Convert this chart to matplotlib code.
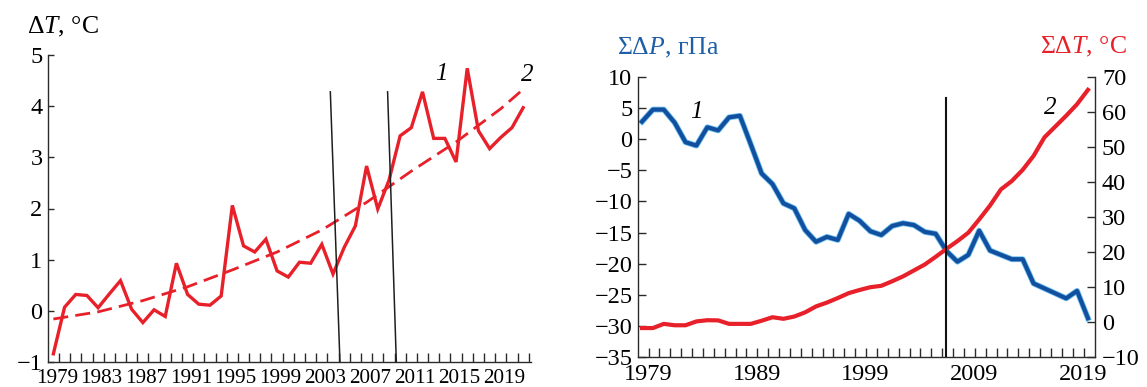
"""Temperature anomaly and accumulated pressure / temperature change, 1979-2021."""
import numpy as np
import matplotlib.pyplot as plt
import matplotlib.patheffects as pe

plt.rcParams['font.family'] = ['Liberation Serif', 'DejaVu Serif']
plt.rcParams['mathtext.fontset'] = 'custom'
plt.rcParams['mathtext.rm'] = 'Liberation Serif'
plt.rcParams['mathtext.it'] = 'Liberation Serif:italic'

RED = '#e8202a'
BLUE = '#12509f'
INK = '#2b2b2b'

# left panel: annual dT and its trend
dt_years = np.arange(1979, 2022)
dt_values = [-0.84, 0.07, 0.32, 0.30, 0.06, 0.33, 0.59, 0.03, -0.23, 0.02,
             -0.11, 0.93, 0.32, 0.13, 0.11, 0.29, 2.06, 1.27, 1.15, 1.40,
             0.78, 0.66, 0.95, 0.93, 1.30, 0.72, 1.24, 1.66, 2.83, 1.99,
             2.55, 3.42, 3.58, 4.28, 3.37, 3.37, 2.91, 4.74, 3.52, 3.17,
             3.39, 3.58, 3.97]
trend_years = [1979, 1983, 1987, 1991, 1995, 1999, 2003, 2007, 2011, 2015, 2019, 2021]
trend_values = [-0.16, -0.02, 0.20, 0.47, 0.80, 1.15, 1.58, 2.12, 2.73, 3.30, 3.95, 4.33]
left_labels = list(range(1979, 2022, 4))

# slanted break markers on the left panel
break_top_x = [2003.76, 2008.88]
break_bottom_x = [2004.62, 2009.66]
break_top_y = 4.28

# right panel: accumulated pressure (1) and temperature (2) anomalies
sum_years = np.arange(1979, 2021)
sum_dp = [2.86, 4.8, 4.8, 2.7, -0.45, -1.0, 1.95, 1.45, 3.55, 3.8,
          -0.8, -5.5, -7.2, -10.3, -11.1, -14.6, -16.5, -15.7, -16.2, -12.0,
          -13.1, -14.8, -15.4, -13.95, -13.5, -13.8, -14.9, -15.2, -18.0, -19.7,
          -18.6, -14.7, -17.9, -18.6, -19.3, -19.3, -23.2, -24.0, -24.8, -25.6,
          -24.4, -28.8]
sum_dt = [-1.8, -1.8, -0.6, -1.0, -1.0, 0.1, 0.45, 0.4, -0.6, -0.6,
          -0.6, 0.3, 1.3, 0.85, 1.5, 2.7, 4.4, 5.5, 6.8, 8.2,
          9.1, 9.9, 10.3, 11.6, 13.0, 14.7, 16.4, 18.6, 20.9, 23.1,
          25.5, 29.3, 33.3, 37.9, 40.3, 43.5, 47.5, 52.8, 55.9, 59.0,
          62.3, 66.4]
right_labels = [1979, 1989, 1999, 2009, 2019]
split_year = 2006.94
split_top = 6.6


def style_axis(ax):
    for side in ('top', 'right'):
        ax.spines[side].set_visible(False)
    for side in ('left', 'bottom'):
        ax.spines[side].set_color(INK)
        ax.spines[side].set_linewidth(1.0)


def plot_left(ax):
    ax.plot(dt_years, dt_values, color=RED, lw=2.4, solid_joinstyle='miter')
    ax.plot(trend_years, trend_values, color=RED, lw=2.0, dashes=(5.4, 2.6))
    for x0, x1 in zip(break_top_x, break_bottom_x):
        ax.plot([x0, x1], [break_top_y, -1], color='#1e1e1e', lw=1.1)

    ax.set_xlim(1978.52, 2021.7)
    ax.set_ylim(-1, 5)
    style_axis(ax)

    ax.set_yticks(range(-1, 6))
    ax.tick_params(axis='y', direction='in', length=4, width=1, color=INK,
                   labelsize=17.5, pad=4)
    ax.set_xticks(np.array(left_labels) + 0.3, [str(y) for y in left_labels])
    ax.set_xticks(np.arange(1979.5, 2022), minor=True)
    ax.tick_params(axis='x', which='major', length=0, labelsize=15.2, pad=5)
    ax.tick_params(axis='x', which='minor', direction='in', length=6.2,
                   width=1, color=INK)

    ax.text(2013.7, 4.62, '1', fontsize=18, style='italic', ha='center', va='center')
    ax.text(2021.4, 4.60, '2', fontsize=18, style='italic', ha='center', va='center')


def plot_right(ax, ax_t):
    ax.plot(sum_years, sum_dp, color=BLUE, lw=3.0, solid_joinstyle='round',
            path_effects=[pe.Stroke(linewidth=4.2, foreground='#6cc0ee'), pe.Normal()])
    ax_t.plot(sum_years, sum_dt, color=RED, lw=3.0, solid_joinstyle='round')
    ax_t.plot([split_year, split_year], [-35, split_top], color='#111111', lw=1.5,
              transform=ax.transData)

    ax.set_xlim(1978.63, 2020.65)
    ax.set_ylim(-35, 10)
    ax_t.set_ylim(-10, 70)
    style_axis(ax)
    for side in ('top', 'left', 'bottom'):
        ax_t.spines[side].set_visible(False)
    ax_t.spines['right'].set_color(INK)
    ax_t.spines['right'].set_linewidth(1.0)

    ax.set_yticks(range(-35, 11, 5))
    ax.tick_params(axis='y', direction='in', length=6, width=1, color=INK,
                   labelsize=17.5, pad=4)
    ax_t.set_yticks(range(-10, 71, 10))
    ax_t.tick_params(axis='y', direction='in', length=6, width=1, color=INK,
                     labelsize=17.5, pad=5)
    ax.set_xticks(np.array(right_labels) + 0.55, [str(y) for y in right_labels])
    ax.set_xticks(np.arange(1979.6, 2020.5), minor=True)
    ax.tick_params(axis='x', which='major', length=0, labelsize=17.5, pad=5)
    ax.tick_params(axis='x', which='minor', direction='in', length=6.5,
                   width=1, color=INK)

    ax.text(1984.0, 4.46, '1', fontsize=18, style='italic', ha='center', va='center')
    ax.text(2016.5, 5.0, '2', fontsize=18, style='italic', ha='center', va='center')


def main():
    W, H = 1147, 387
    fig = plt.figure(figsize=(W / 100, H / 100), dpi=100)
    ax1 = fig.add_axes([48 / W, 1 - 362 / H, (531 - 48) / W, (362 - 55) / H])
    ax2 = fig.add_axes([638 / W, 1 - 356.7 / H, (1095 - 638) / W, (356.7 - 77.3) / H])
    ax3 = ax2.twinx()

    plot_left(ax1)
    plot_right(ax2, ax3)

    fig.text(27 / W, 1 - 27 / H, 'Δ$\\mathit{T}$, °C', fontsize=18.5,
             ha='left', va='center')
    fig.text(617 / W, 1 - 48 / H, 'ΣΔ$\\mathit{P}$, гПа', fontsize=18.5,
             color='#1f5fa8', ha='left', va='center')
    fig.text(1127 / W, 1 - 47 / H, 'ΣΔ$\\mathit{T}$, °C', fontsize=18.5,
             color=RED, ha='right', va='center')

    fig.savefig('out.png', dpi=100)


if __name__ == '__main__':
    main()
